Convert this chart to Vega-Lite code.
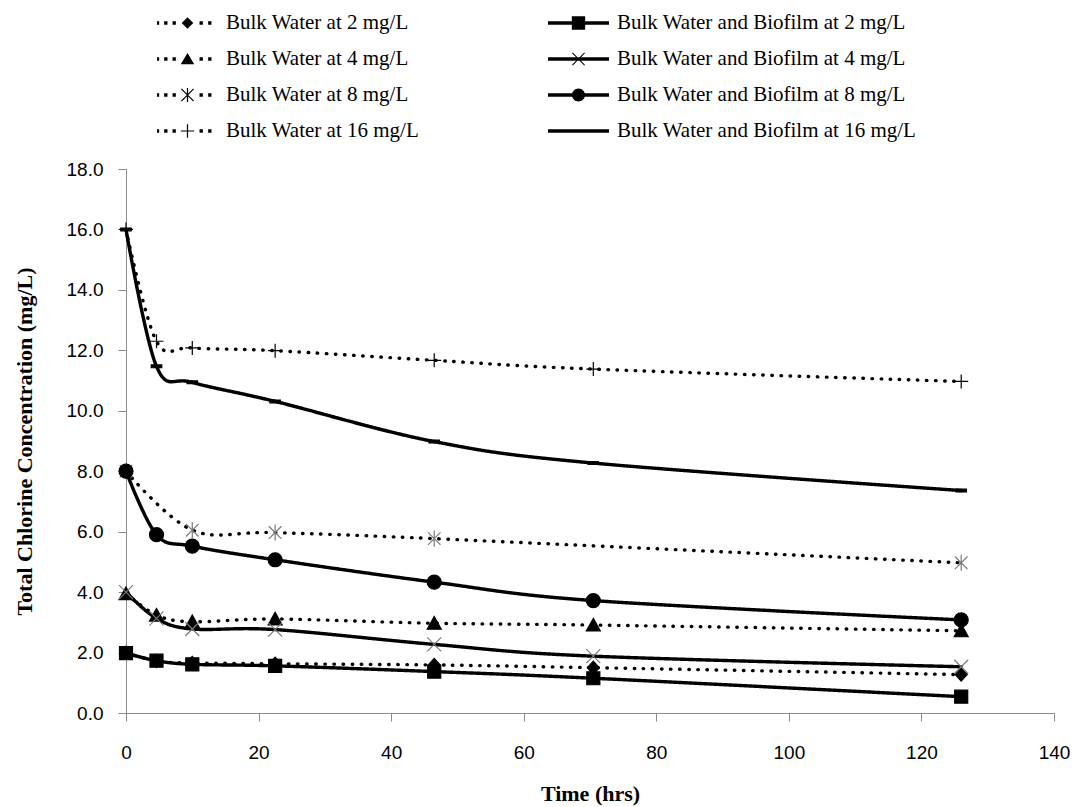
{
  "$schema": "https://vega.github.io/schema/vega-lite/v6.json",
  "width": 928,
  "height": 544,
  "autosize": "none",
  "padding": {"left": 126, "top": 169, "right": 27, "bottom": 94},
  "background": "white",
  "config": {"view": {"stroke": null}},
  "data": {
    "values": [
      {"series": "Bulk Water at 2 mg/L", "time": 0, "value": 2.0},
      {"series": "Bulk Water at 2 mg/L", "time": 4.6, "value": 1.72},
      {"series": "Bulk Water at 2 mg/L", "time": 10, "value": 1.66},
      {"series": "Bulk Water at 2 mg/L", "time": 22.5, "value": 1.63},
      {"series": "Bulk Water at 2 mg/L", "time": 46.5, "value": 1.59},
      {"series": "Bulk Water at 2 mg/L", "time": 70.5, "value": 1.5},
      {"series": "Bulk Water at 2 mg/L", "time": 126, "value": 1.27},
      {"series": "Bulk Water at 4 mg/L", "time": 0, "value": 3.95},
      {"series": "Bulk Water at 4 mg/L", "time": 4.6, "value": 3.24},
      {"series": "Bulk Water at 4 mg/L", "time": 10, "value": 3.02},
      {"series": "Bulk Water at 4 mg/L", "time": 22.5, "value": 3.11},
      {"series": "Bulk Water at 4 mg/L", "time": 46.5, "value": 2.97},
      {"series": "Bulk Water at 4 mg/L", "time": 70.5, "value": 2.91},
      {"series": "Bulk Water at 4 mg/L", "time": 126, "value": 2.72},
      {"series": "Bulk Water at 8 mg/L", "time": 0, "value": 8.0},
      {"series": "Bulk Water at 8 mg/L", "time": 10, "value": 6.05},
      {"series": "Bulk Water at 8 mg/L", "time": 22.5, "value": 5.97},
      {"series": "Bulk Water at 8 mg/L", "time": 46.5, "value": 5.77},
      {"series": "Bulk Water at 8 mg/L", "time": 126, "value": 4.97},
      {"series": "Bulk Water at 16 mg/L", "time": 0, "value": 16.0},
      {"series": "Bulk Water at 16 mg/L", "time": 4.6, "value": 12.3},
      {"series": "Bulk Water at 16 mg/L", "time": 10, "value": 12.08},
      {"series": "Bulk Water at 16 mg/L", "time": 22.5, "value": 11.99},
      {"series": "Bulk Water at 16 mg/L", "time": 46.5, "value": 11.67},
      {"series": "Bulk Water at 16 mg/L", "time": 70.5, "value": 11.38},
      {"series": "Bulk Water at 16 mg/L", "time": 126, "value": 10.97},
      {"series": "Bulk Water and Biofilm at 2 mg/L", "time": 0, "value": 1.98},
      {"series": "Bulk Water and Biofilm at 2 mg/L", "time": 4.6, "value": 1.73},
      {"series": "Bulk Water and Biofilm at 2 mg/L", "time": 10, "value": 1.61},
      {"series": "Bulk Water and Biofilm at 2 mg/L", "time": 22.5, "value": 1.56},
      {"series": "Bulk Water and Biofilm at 2 mg/L", "time": 46.5, "value": 1.37},
      {"series": "Bulk Water and Biofilm at 2 mg/L", "time": 70.5, "value": 1.15},
      {"series": "Bulk Water and Biofilm at 2 mg/L", "time": 126, "value": 0.54},
      {"series": "Bulk Water and Biofilm at 4 mg/L", "time": 0, "value": 4.0},
      {"series": "Bulk Water and Biofilm at 4 mg/L", "time": 4.6, "value": 3.13},
      {"series": "Bulk Water and Biofilm at 4 mg/L", "time": 10, "value": 2.78},
      {"series": "Bulk Water and Biofilm at 4 mg/L", "time": 22.5, "value": 2.76},
      {"series": "Bulk Water and Biofilm at 4 mg/L", "time": 46.5, "value": 2.27},
      {"series": "Bulk Water and Biofilm at 4 mg/L", "time": 70.5, "value": 1.88},
      {"series": "Bulk Water and Biofilm at 4 mg/L", "time": 126, "value": 1.53},
      {"series": "Bulk Water and Biofilm at 8 mg/L", "time": 0, "value": 8.0},
      {"series": "Bulk Water and Biofilm at 8 mg/L", "time": 4.6, "value": 5.9},
      {"series": "Bulk Water and Biofilm at 8 mg/L", "time": 10, "value": 5.52},
      {"series": "Bulk Water and Biofilm at 8 mg/L", "time": 22.5, "value": 5.07},
      {"series": "Bulk Water and Biofilm at 8 mg/L", "time": 46.5, "value": 4.33},
      {"series": "Bulk Water and Biofilm at 8 mg/L", "time": 70.5, "value": 3.72},
      {"series": "Bulk Water and Biofilm at 8 mg/L", "time": 126, "value": 3.08},
      {"series": "Bulk Water and Biofilm at 16 mg/L", "time": 0, "value": 16.0},
      {"series": "Bulk Water and Biofilm at 16 mg/L", "time": 4.6, "value": 11.47},
      {"series": "Bulk Water and Biofilm at 16 mg/L", "time": 10, "value": 10.94},
      {"series": "Bulk Water and Biofilm at 16 mg/L", "time": 22.5, "value": 10.31},
      {"series": "Bulk Water and Biofilm at 16 mg/L", "time": 46.5, "value": 8.98},
      {"series": "Bulk Water and Biofilm at 16 mg/L", "time": 70.5, "value": 8.27},
      {"series": "Bulk Water and Biofilm at 16 mg/L", "time": 126, "value": 7.36}
    ]
  },
  "encoding": {
    "x": {
      "field": "time", "type": "quantitative",
      "scale": {"domain": [0, 140], "nice": false, "zero": false},
      "axis": {
        "title": "Time (hrs)", "values": [0, 20, 40, 60, 80, 100, 120, 140], "format": "d",
        "grid": false, "domainColor": "#8c8c8c", "tickColor": "#8c8c8c", "tickSize": 8,
        "labelFont": "Liberation Sans", "labelFontSize": 19, "labelColor": "black",
        "labelPadding": 22, "labelFlush": false, "labelOverlap": false,
        "titleFont": "Liberation Serif", "titleFontSize": 22, "titleFontWeight": "bold",
        "titleColor": "black", "titleY": 80, "titleBaseline": "middle"
      }
    },
    "y": {
      "field": "value", "type": "quantitative",
      "scale": {"domain": [0, 18], "nice": false},
      "axis": {
        "title": "Total Chlorine Concentration (mg/L)", "values": [0, 2, 4, 6, 8, 10, 12, 14, 16, 18], "format": ".1f",
        "grid": false, "domainColor": "#8c8c8c", "tickColor": "#8c8c8c", "tickSize": 8,
        "labelFont": "Liberation Sans", "labelFontSize": 19, "labelColor": "black",
        "labelPadding": 15, "labelFlush": false, "labelOverlap": false,
        "titleFont": "Liberation Serif", "titleFontSize": 22, "titleFontWeight": "bold",
        "titleColor": "black", "titleX": -102, "titleY": 272, "titleAngle": -90,
        "titleBaseline": "middle", "titleAlign": "center"
      }
    }
  },
  "layer": [
    {
      "mark": {"type": "line", "interpolate": "cardinal", "color": "black", "strokeWidth": 3.4, "strokeCap": "round"},
      "encoding": {
        "detail": {"field": "series"},
        "strokeDash": {
          "field": "series", "type": "nominal", "legend": null,
          "scale": {
            "domain": ["Bulk Water at 2 mg/L", "Bulk Water at 4 mg/L", "Bulk Water at 8 mg/L", "Bulk Water at 16 mg/L", "Bulk Water and Biofilm at 2 mg/L", "Bulk Water and Biofilm at 4 mg/L", "Bulk Water and Biofilm at 8 mg/L", "Bulk Water and Biofilm at 16 mg/L"],
            "range": [[0.5, 8.6], [0.5, 8.6], [0.5, 8.6], [0.5, 8.6], [1, 0], [1, 0], [1, 0], [1, 0]]
          }
        }
      }
    },
    {
      "mark": {"type": "point", "size": 196, "strokeWidth": 1.2, "opacity": 1},
      "encoding": {
        "shape": {
          "field": "series", "type": "nominal", "legend": null,
          "scale": {
            "domain": ["Bulk Water at 2 mg/L", "Bulk Water at 4 mg/L", "Bulk Water at 8 mg/L", "Bulk Water at 16 mg/L", "Bulk Water and Biofilm at 2 mg/L", "Bulk Water and Biofilm at 4 mg/L", "Bulk Water and Biofilm at 8 mg/L", "Bulk Water and Biofilm at 16 mg/L"],
            "range": [
              "M0,-0.93L0.86,0L0,0.93L-0.86,0Z",
              "M0,-0.95L1,0.85H-1Z",
              "M-0.9,-0.9L0.9,0.9M-0.9,0.9L0.9,-0.9M0,-1.15V1.15",
              "M-1,0H1M0,-1V1",
              "M-0.93,-0.93H0.93V0.93H-0.93Z",
              "M-1,-1L1,1M-1,1L1,-1",
              "circle",
              "M-0.75,-0.2H0.75V0.2H-0.75Z"
            ]
          }
        },
        "fill": {
          "field": "series", "type": "nominal", "legend": null,
          "scale": {
            "domain": ["Bulk Water at 2 mg/L", "Bulk Water at 4 mg/L", "Bulk Water at 8 mg/L", "Bulk Water at 16 mg/L", "Bulk Water and Biofilm at 2 mg/L", "Bulk Water and Biofilm at 4 mg/L", "Bulk Water and Biofilm at 8 mg/L", "Bulk Water and Biofilm at 16 mg/L"],
            "range": ["black", "black", "transparent", "transparent", "black", "transparent", "black", "black"]
          }
        },
        "stroke": {
          "field": "series", "type": "nominal", "legend": null,
          "scale": {
            "domain": ["Bulk Water at 2 mg/L", "Bulk Water at 4 mg/L", "Bulk Water at 8 mg/L", "Bulk Water at 16 mg/L", "Bulk Water and Biofilm at 2 mg/L", "Bulk Water and Biofilm at 4 mg/L", "Bulk Water and Biofilm at 8 mg/L", "Bulk Water and Biofilm at 16 mg/L"],
            "range": ["black", "black", "#7a7a7a", "black", "black", "#7a7a7a", "black", "black"]
          }
        }
      }
    },
    {
      "transform": [{"filter": "datum.time < 0"}],
      "mark": {"type": "point", "filled": true, "color": "black", "size": 3721, "strokeWidth": 0, "opacity": 1},
      "encoding": {
        "shape": {
          "field": "series", "type": "nominal",
          "scale": {
            "domain": ["Bulk Water at 2 mg/L", "Bulk Water at 4 mg/L", "Bulk Water at 8 mg/L", "Bulk Water at 16 mg/L", "Bulk Water and Biofilm at 2 mg/L", "Bulk Water and Biofilm at 4 mg/L", "Bulk Water and Biofilm at 8 mg/L", "Bulk Water and Biofilm at 16 mg/L"],
            "range": [
              "M-1.039,-0.055h0.11v0.11h-0.11Z M-0.766,-0.055h0.11v0.11h-0.11Z M-0.491,-0.055h0.11v0.11h-0.11Z M0.394,-0.055h0.11v0.11h-0.11Z M0.676,-0.055h0.11v0.11h-0.11Z M0,-0.19L0.19,0L0,0.19L-0.19,0Z",
              "M-1.039,-0.055h0.11v0.11h-0.11Z M-0.766,-0.055h0.11v0.11h-0.11Z M-0.491,-0.055h0.11v0.11h-0.11Z M0.394,-0.055h0.11v0.11h-0.11Z M0.676,-0.055h0.11v0.11h-0.11Z M0,-0.2L0.22,0.17L-0.22,0.17Z",
              "M-1.039,-0.055h0.11v0.11h-0.11Z M-0.766,-0.055h0.11v0.11h-0.11Z M-0.491,-0.055h0.11v0.11h-0.11Z M0.394,-0.055h0.11v0.11h-0.11Z M0.676,-0.055h0.11v0.11h-0.11Z M-0.186,-0.214L0.214,0.186L0.186,0.214L-0.214,-0.186Z M0.186,-0.214L0.214,-0.186L-0.186,0.214L-0.214,0.186Z M-0.02,-0.23H0.02V0.23H-0.02Z",
              "M-1.039,-0.055h0.11v0.11h-0.11Z M-0.766,-0.055h0.11v0.11h-0.11Z M-0.491,-0.055h0.11v0.11h-0.11Z M0.394,-0.055h0.11v0.11h-0.11Z M0.676,-0.055h0.11v0.11h-0.11Z M-0.02,-0.22H0.02V0.22H-0.02Z M-0.22,-0.02H0.22V0.02H-0.22Z",
              "M-1,-0.054H1V0.054H-1Z M-0.219,-0.219H0.219V0.219H-0.219Z",
              "M-1,-0.054H1V0.054H-1Z M-0.188,-0.212L0.212,0.188L0.188,0.212L-0.212,-0.188Z M0.188,-0.212L0.212,-0.188L-0.188,0.212L-0.212,0.188Z",
              "M-1,-0.054H1V0.054H-1Z M-0.213,0A0.213,0.213,0,1,1,0.213,0A0.213,0.213,0,1,1,-0.213,0Z",
              "M-1,-0.054H1V0.054H-1Z"
            ]
          },
          "legend": {
            "title": null, "orient": "none", "legendX": 31, "legendY": -157,
            "columns": 2, "columnPadding": 128, "rowPadding": 14, "padding": 0,
            "clipHeight": 22, "symbolSize": 3721, "symbolFillColor": "black",
            "symbolStrokeColor": "transparent", "symbolStrokeWidth": 0, "symbolOpacity": 1,
            "labelFont": "Liberation Serif", "labelFontSize": 21, "labelColor": "black",
            "labelOffset": 8, "labelLimit": 400
          }
        }
      }
    }
  ],
  "resolve": {"scale": {"shape": "independent"}}
}
